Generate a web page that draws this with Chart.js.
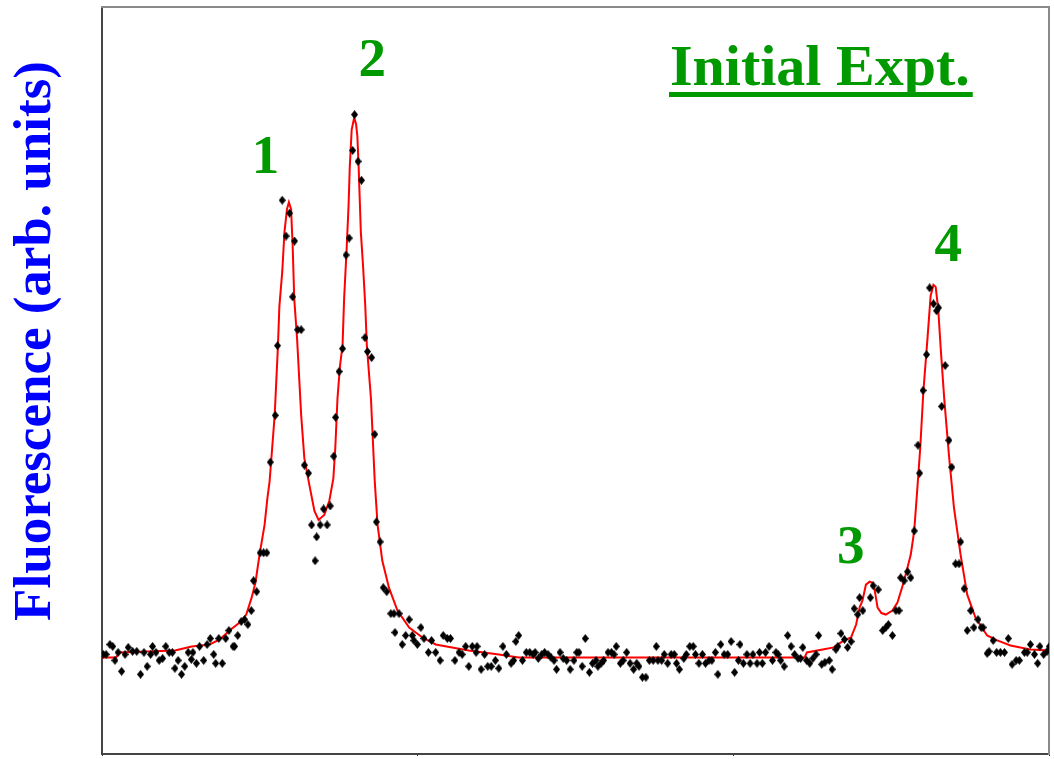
<!DOCTYPE html>
<html>
<head>
<meta charset="utf-8">
<script src="https://cdn.jsdelivr.net/npm/chart.js@4.4.0/dist/chart.umd.min.js"></script>
<style>
  html, body { margin: 0; padding: 0; background: #fff; }
  canvas { display: block; }
</style>
</head>
<body>
<canvas id="myChart" width="1054" height="759"></canvas>
<script>
// measured points (arb. x channel, fluorescence counts)
const pointX = [
  0.4, 1.3, 2.5, 3.4, 4.1, 5.1, 6.2, 7.3, 8.3, 9.7,
  11.0, 12.2, 13.3, 14.3, 15.4, 16.0, 17.1, 18.1, 19.2, 20.2,
  21.3, 22.3, 23.1, 24.1, 25.2, 26.2, 27.3, 28.3, 28.8, 29.9,
  30.9, 32.2, 33.3, 34.3, 35.4, 36.0, 37.0, 38.1, 39.2, 40.2,
  41.5, 42.0, 43.0, 44.1, 45.2, 46.2, 47.3, 48.0, 49.0, 50.1,
  51.2, 52.2, 53.3, 54.9, 55.6, 57.1, 58.3, 59.4, 60.4, 61.0,
  62.0, 63.1, 64.1, 65.4, 66.4, 67.5, 68.0, 69.1, 70.2, 71.3,
  72.3, 73.4, 74.0, 75.1, 76.2, 77.3, 78.3, 79.4, 80.0, 81.1,
  82.2, 83.3, 84.1, 85.4, 86.4, 86.9, 88.1, 89.1, 90.2, 91.5,
  92.5, 92.8, 94.1, 95.1, 96.2, 97.3, 98.3, 98.8, 99.9, 101.0,
  102.0, 103.4, 104.4, 105.7, 107.1, 108.1, 109.4, 110.4, 111.8, 113.1,
  114.1, 115.2, 116.2, 117.3, 118.5, 118.8, 120.1, 121.2, 122.2, 123.3,
  124.6, 125.7, 127.0, 128.1, 129.6, 130.4, 131.1, 132.0, 133.2, 134.4,
  135.5, 136.6, 137.2, 138.2, 139.3, 140.2, 141.3, 142.2, 143.2, 144.0,
  145.1, 146.1, 147.2, 148.3, 149.5, 150.4, 151.1, 152.1, 153.1, 154.4,
  155.4, 156.5, 157.1, 158.1, 158.9, 160.3, 161.4, 162.2, 162.9, 164.2,
  165.1, 166.2, 167.3, 168.4, 169.4, 170.1, 171.2, 172.3, 173.4, 174.6,
  175.6, 176.1, 177.3, 178.1, 179.2, 180.3, 181.3, 182.0, 182.9, 184.3,
  185.1, 186.2, 187.3, 188.0, 189.1, 190.2, 191.2, 192.3, 193.2, 194.3,
  195.1, 196.0, 197.1, 198.2, 199.3, 200.4, 201.6, 202.1, 203.2, 204.3,
  205.3, 206.2, 207.5, 208.3, 209.2, 210.2, 211.3, 212.4, 213.5, 214.2,
  215.0, 216.1, 217.2, 218.3, 219.4, 220.5, 221.3, 222.0, 223.2, 224.2,
  225.2, 226.2, 227.0, 228.0, 229.0, 230.4, 231.3, 232.5, 233.1, 234.1,
  235.2, 236.2, 237.3, 238.3, 239.4, 240.0, 241.0, 243.4, 244.3, 245.9,
  247.3, 248.3, 249.1, 250.4, 251.5, 252.5, 253.0, 254.1, 255.2, 256.2,
  257.3, 258.5, 259.0, 260.1, 261.2, 262.2, 263.4, 264.4, 265.0, 266.0,
  267.1, 268.3, 269.2, 270.4, 271.5, 272.0, 273.1, 274.1, 275.2, 276.2,
  277.5, 278.5, 279.1, 280.4, 281.0, 282.3, 283.4, 284.6, 285.9, 287.1,
  288.3, 289.6, 290.6, 292.2, 293.1, 294.1, 295.4, 296.4, 297.1, 298.3,
  299.4, 300.1
];
const pointY = [
  100, 100, 110, 108, 94, 102, 83, 100, 107, 103,
  103, 80, 102, 88, 100, 108, 102, 94, 96, 108,
  102, 102, 86, 94, 80, 88, 102, 95, 102, 91,
  108, 94, 110, 116, 100, 91, 116, 91, 116, 124,
  108, 108, 119, 133, 135, 130, 144, 174, 163, 202,
  202, 202, 293, 340, 410, 556, 520, 543, 459, 515,
  426, 426, 290, 282, 230, 194, 218, 230, 246, 230,
  249, 299, 338, 384, 407, 501, 518, 606, 642, 595,
  576, 418, 404, 398, 321, 233, 213, 167, 163, 141,
  141, 122, 141, 110, 119, 135, 119, 114, 110, 127,
  116, 102, 114, 102, 94, 119, 116, 116, 94, 102,
  100, 108, 88, 108, 102, 108, 85, 100, 88, 88,
  94, 86, 108, 100, 91, 94, 113, 119, 94, 102,
  102, 100, 102, 96, 100, 102, 100, 97, 94, 85,
  102, 96, 94, 85, 94, 102, 102, 88, 116, 82,
  91, 94, 88, 91, 94, 102, 102, 100, 108, 91,
  94, 102, 91, 85, 91, 88, 77, 77, 94, 94,
  108, 94, 94, 100, 91, 100, 100, 91, 85, 96,
  100, 108, 108, 100, 91, 100, 91, 94, 94, 102,
  80, 110, 100, 100, 113, 82, 94, 110, 91, 100,
  91, 100, 91, 102, 91, 102, 108, 94, 102, 100,
  94, 88, 119, 108, 100, 96, 96, 107, 94, 91,
  96, 100, 119, 90, 92, 94, 85, 105, 108, 121,
  115, 107, 113, 146, 140, 157, 144, 157, 169, 165,
  124, 127, 130, 119, 144, 144, 177, 174, 183, 177,
  224, 310, 282, 365, 401, 468, 452, 445, 448, 349,
  390, 315, 288, 191, 191, 213, 166, 124, 144, 127,
  135, 127, 127, 101, 103, 114, 102, 102, 102, 116,
  90, 94, 94, 102, 102, 110, 100, 91, 108, 100,
  103, 108
];

// fitted curve
const fitX = [
  0, 4.4, 5.7, 23.1, 28.4, 34.1, 37.3, 40.4, 43.6, 45.7,
  47.4, 48.6, 49.9, 51.5, 52.4, 53.1, 53.9, 54.7, 55.7, 56.2,
  57.1, 57.8, 58.6, 59.2, 59.9, 60.4, 60.9, 61.8, 63.1, 64.1,
  65.7, 67.3, 68.6, 70.4, 72.0, 73.3, 73.9, 74.6, 75.4, 76.2,
  76.7, 77.5, 78.1, 78.5, 79.1, 79.9, 80.5, 80.9, 81.3, 82.0,
  82.7, 83.4, 83.9, 85.2, 86.4, 87.3, 88.8, 90.9, 93.6, 97.3,
  101.5, 105.7, 110.9, 116.2, 125.7, 132.0, 222.6, 223.3, 228.3, 231.8,
  235.0, 237.3, 238.9, 240.0, 240.9, 242.0, 243.2, 244.1, 244.8, 245.7,
  246.9, 248.3, 250.4, 252.0, 254.1, 256.2, 257.3, 258.3, 259.2, 260.2,
  261.5, 262.5, 263.4, 264.1, 264.9, 265.7, 266.8, 268.3, 269.9, 272.0,
  274.1, 276.7, 280.4, 283.6, 287.8, 294.1, 300
];
const fitY = [
  97, 97, 102, 104, 108, 110, 115, 124, 132, 140,
  157, 172, 200, 230, 257, 274, 307, 340, 407, 450,
  484, 524, 547, 554, 547, 510, 457, 417, 340, 297,
  270, 244, 235, 240, 254, 277, 307, 357, 390, 410,
  457, 507, 550, 590, 627, 639, 632, 620, 590, 524,
  490, 450, 410, 357, 274, 230, 194, 167, 144, 127,
  117, 110, 107, 104, 100, 97, 97, 102, 105, 107,
  114, 117, 130, 147, 154, 170, 173, 172, 164, 147,
  141.5, 140, 144, 152, 174, 200, 224, 267, 307, 364,
  417, 460, 471, 469, 447, 407, 357, 300, 247, 200,
  160, 137, 119, 114, 109, 105, 104
];

const xTicks = [0, 100, 200, 300];
const yTitle = 'Fluorescence (arb. units)';
const boxTitle = 'Initial Expt.';
const peakNames = ['1', '2', '3', '4'];
const peakLabelX = [51.8, 85.6, 237.2, 268.1];
const peakLabelY = [583, 681, 192, 495];

const GREEN = '#009900';
const SERIF = '"Liberation Serif", "Times New Roman", serif';

// small upright diamond used as the marker
function makeDiamond() {
    const c = document.createElement('canvas');
    c.width = 7; c.height = 9;
    const g = c.getContext('2d');
    g.fillStyle = '#000';
    g.beginPath();
    g.moveTo(3.5, 0); g.lineTo(7, 4.5); g.lineTo(3.5, 9); g.lineTo(0, 4.5);
    g.closePath();
    g.fill();
    return c;
}

const annotations = {
    id: 'annotations',
    afterDraw(chart) {
        const ctx = chart.ctx;
        const xs = chart.scales.x, ys = chart.scales.y;

        // y axis title, placed like the original slide
        ctx.save();
        ctx.fillStyle = '#0000ff';
        ctx.font = 'bold 53px ' + SERIF;
        ctx.translate(50, 341);
        ctx.rotate(-Math.PI / 2);
        ctx.textAlign = 'center';
        ctx.textBaseline = 'alphabetic';
        ctx.fillText(yTitle, 0, 0);
        ctx.restore();

        // peak numbers
        ctx.save();
        ctx.fillStyle = GREEN;
        ctx.font = 'bold 55px ' + SERIF;
        ctx.textAlign = 'center';
        ctx.textBaseline = 'alphabetic';
        peakNames.forEach((n, i) => {
            ctx.fillText(n, xs.getPixelForValue(peakLabelX[i]), ys.getPixelForValue(peakLabelY[i]));
        });

        // underlined box title
        ctx.font = 'bold 58px ' + SERIF;
        ctx.textAlign = 'left';
        const tx = 670, ty = 85;
        ctx.fillText(boxTitle, tx, ty);
        const w = ctx.measureText(boxTitle).width;
        ctx.fillRect(tx - 1, ty + 7, w + 4, 5);
        ctx.restore();
    }
};

const ctx = document.getElementById('myChart').getContext('2d');

const hiddenTicks = { display: false, padding: 0 };

new Chart(ctx, {
    type: 'scatter',
    data: {
        datasets: [{
            label: 'Data',
            data: pointX.map((x, i) => ({ x: x, y: pointY[i] })),
            pointStyle: makeDiamond(),
            pointRadius: 4,
            showLine: false,
            order: 0
        }, {
            label: 'Fit',
            data: fitX.map((x, i) => ({ x: x, y: fitY[i] })),
            showLine: true,
            borderColor: '#ff0000',
            borderWidth: 2,
            pointRadius: 0,
            tension: 0,
            fill: false,
            order: 1
        }]
    },
    options: {
        responsive: false,
        animation: false,
        layout: { padding: { left: 102, top: 7, right: 2, bottom: 0 } },
        plugins: { legend: { display: false }, tooltip: { enabled: false } },
        scales: {
            x: {
                type: 'linear',
                min: 0, max: 300,
                afterBuildTicks: axis => { axis.ticks = xTicks.map(v => ({ value: v })); },
                ticks: hiddenTicks,
                grid: { drawOnChartArea: false, drawTicks: true, tickLength: 2, color: '#333' },
                border: { color: '#444', width: 2 }
            },
            y: {
                min: 0, max: 750,
                ticks: hiddenTicks,
                grid: { display: false, drawTicks: false },
                border: { color: '#444', width: 2 }
            },
            xTop: {
                type: 'linear', position: 'top',
                min: 0, max: 300,
                ticks: hiddenTicks,
                grid: { display: false, drawTicks: false },
                border: { color: '#8a8a8a', width: 2 }
            },
            yRight: {
                type: 'linear', position: 'right',
                min: 0, max: 750,
                ticks: hiddenTicks,
                grid: { display: false, drawTicks: false },
                border: { color: '#8a8a8a', width: 2 }
            }
        }
    },
    plugins: [annotations]
});
</script>
</body>
</html>
